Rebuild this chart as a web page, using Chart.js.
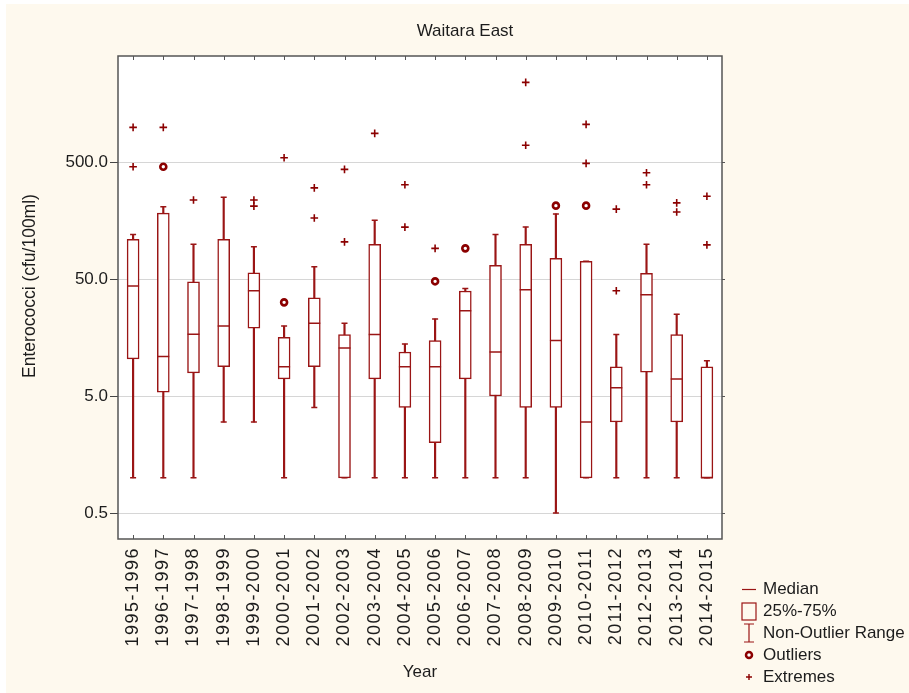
<!DOCTYPE html>
<html>
<head>
<meta charset="utf-8">
<script src="https://cdn.jsdelivr.net/npm/chart.js@4.4.9/dist/chart.umd.min.js"></script>
<style>
  html, body { margin: 0; padding: 0; background: #fff; }
</style>
</head>
<body>
<canvas id="chartBox" width="909" height="693"></canvas>
<script>
// valores (cfu/100ml)
const years = ['1995-1996', '1996-1997', '1997-1998', '1998-1999', '1999-2000', '2000-2001', '2001-2002',
    '2002-2003', '2003-2004', '2004-2005', '2005-2006', '2006-2007', '2007-2008', '2008-2009',
    '2009-2010', '2010-2011', '2011-2012', '2012-2013', '2013-2014', '2014-2015'];
const whiskerLow = [1, 1, 1, 3, 3, 1, 4, 1, 1, 1, 1, 1, 1, 1, 0.5, 1, 1, 1, 1, 1];
const quartile1 = [10.4, 5.4, 7.9, 8.9, 19, 7, 8.9, 1, 7, 4, 2, 7, 5, 4, 4, 1, 3, 8, 3, 1];
const medians = [43.6, 10.9, 16.9, 19.8, 39.7, 8.9, 20.9, 12.9, 16.8, 8.9, 8.9, 26.8, 11.9, 40.5, 14.9, 3, 5.9, 36.7, 7, 1];
const quartile3 = [109, 183, 47.4, 109, 56.6, 15.9, 34.6, 16.8, 99, 11.9, 14.9, 39.5, 65.5, 99, 75, 70.8, 8.9, 56, 16.8, 8.9];
const whiskerHigh = [120, 207, 99, 250, 94.4, 19.8, 63.7, 20.9, 159, 13.9, 22.8, 41.6, 120, 139, 180, 70.8, 16.8, 99, 25, 10];
const outliers = [[], [456], [], [], [], [31.6], [], [], [], [], [47.8], [91.5], [], [], [212], [212], [], [], [], []];
const extremes = [[990, 456], [990], [237], [], [237, 210], [544], [301, 166], [433, 104], [879], [320, 139],
    [91.5], [], [], [2400, 695], [], [1050, 487], [198, 39.7], [405, 320], [224, 187], [255, 98]];
const yTicks = [0.5, 5, 50, 500];
const legendLabels = ['Median', '25%-75%', 'Non-Outlier Range', 'Outliers', 'Extremes'];

const fontFamily = '"Liberation Sans", Arial, sans-serif';
const lineColor = '#9a1515';
const dotColor = '#8b0000';
const textColor = '#1c1c1c';
const cream = '#fef9ee';

Chart.defaults.font.family = fontFamily;

const pontos = (valores) => years.flatMap((ano, i) => valores[i].map(v => ({ x: ano, y: v })));

const moldura = {
    id: 'moldura',
    afterUpdate: (chart) => {
        // rotulos do eixo x com espacamento entre letras
        const xs = chart.scales.x;
        if (!xs._espacado) {
            const original = xs.drawLabels.bind(xs);
            xs.drawLabels = (area) => {
                const c = xs.ctx;
                c.save();
                c.letterSpacing = '1.5px';
                original(area);
                c.restore();
            };
            xs._espacado = true;
        }
    },
    beforeDraw: (chart) => {
        const { ctx, chartArea: a } = chart;
        ctx.save();
        ctx.fillStyle = '#ffffff';
        ctx.fillRect(0, 0, chart.width, chart.height);
        ctx.fillStyle = cream;
        ctx.fillRect(6, 4, chart.width - 6, chart.height - 4);
        ctx.fillStyle = '#ffffff';
        ctx.fillRect(a.left, a.top, a.right - a.left, a.bottom - a.top);
        ctx.restore();
    },
    afterDraw: (chart) => {
        const { ctx, chartArea: a, scales } = chart;
        ctx.save();

        // borda da area do grafico
        ctx.strokeStyle = '#555';
        ctx.lineWidth = 1.5;
        ctx.strokeRect(a.left, a.top, a.right - a.left, a.bottom - a.top);

        // marcas internas no eixo x (topo e base)
        ctx.lineWidth = 1;
        ctx.beginPath();
        years.forEach((_, i) => {
            const x = Math.round(scales.x.getPixelForTick(i)) + 0.5;
            ctx.moveTo(x, a.top);
            ctx.lineTo(x, a.top + 4);
            ctx.moveTo(x, a.bottom);
            ctx.lineTo(x, a.bottom - 4);
        });
        // marcas do lado direito
        yTicks.forEach(v => {
            const y = Math.round(scales.y.getPixelForValue(v)) + 0.5;
            ctx.moveTo(a.right, y);
            ctx.lineTo(a.right + 3, y);
        });
        ctx.stroke();

        // titulos
        ctx.fillStyle = textColor;
        ctx.textAlign = 'center';
        ctx.textBaseline = 'middle';
        ctx.font = `17px ${fontFamily}`;
        ctx.fillText('Waitara East', 465, 31);

        ctx.save();
        ctx.translate(30, 286);
        ctx.rotate(-Math.PI / 2);
        ctx.font = `17.5px ${fontFamily}`;
        ctx.fillText('Enterococci (cfu/100ml)', 0, 0);
        ctx.restore();

        // legenda
        const lx = 749;
        const linhas = [589, 611, 633, 655, 677];
        ctx.strokeStyle = lineColor;
        ctx.lineWidth = 1.2;
        ctx.beginPath();
        ctx.moveTo(lx - 7, linhas[0] + 0.5);
        ctx.lineTo(lx + 7, linhas[0] + 0.5);
        ctx.stroke();
        ctx.strokeRect(lx - 7, linhas[1] - 8, 14, 17);
        ctx.beginPath();
        ctx.moveTo(lx, linhas[2] - 9);
        ctx.lineTo(lx, linhas[2] + 9);
        ctx.moveTo(lx - 5, linhas[2] - 9);
        ctx.lineTo(lx + 5, linhas[2] - 9);
        ctx.moveTo(lx - 5, linhas[2] + 9);
        ctx.lineTo(lx + 5, linhas[2] + 9);
        ctx.stroke();
        ctx.strokeStyle = dotColor;
        ctx.fillStyle = '#fff';
        ctx.lineWidth = 2.5;
        ctx.beginPath();
        ctx.arc(lx, linhas[3], 3, 0, Math.PI * 2);
        ctx.fill();
        ctx.stroke();
        ctx.lineWidth = 1.4;
        ctx.beginPath();
        ctx.moveTo(lx - 3, linhas[4]);
        ctx.lineTo(lx + 3, linhas[4]);
        ctx.moveTo(lx, linhas[4] - 3);
        ctx.lineTo(lx, linhas[4] + 3);
        ctx.stroke();

        ctx.fillStyle = textColor;
        ctx.textAlign = 'left';
        ctx.font = `17px ${fontFamily}`;
        legendLabels.forEach((t, i) => ctx.fillText(t, 763, linhas[i]));
        ctx.restore();
    }
};

const ctx = document.getElementById('chartBox');
new Chart(ctx, {
    type: 'bar',
    data: {
        labels: years,
        datasets: [
            {
                type: 'bar',
                label: '25%-75%',
                data: years.map((_, i) => [quartile1[i], quartile3[i]]),
                backgroundColor: '#ffffff',
                borderColor: lineColor,
                borderWidth: 1.5,
                borderSkipped: false,
                barThickness: 12,
                grouped: false,
                order: 1
            },
            {
                type: 'bar',
                label: 'Non-Outlier Range',
                data: years.map((_, i) => [whiskerLow[i], whiskerHigh[i]]),
                backgroundColor: lineColor,
                borderWidth: 0,
                barThickness: 1.5,
                grouped: false,
                order: 2
            },
            {
                type: 'scatter',
                label: 'caps',
                data: [...years.map((ano, i) => ({ x: ano, y: whiskerLow[i] })), ...years.map((ano, i) => ({ x: ano, y: whiskerHigh[i] }))],
                pointStyle: 'line',
                pointRadius: 3,
                borderColor: lineColor,
                borderWidth: 1.5,
                order: 0
            },
            {
                type: 'scatter',
                label: 'Median',
                data: years.map((ano, i) => ({ x: ano, y: medians[i] })),
                pointStyle: 'line',
                pointRadius: 6,
                borderColor: lineColor,
                borderWidth: 1.5,
                order: 0
            },
            {
                type: 'scatter',
                label: 'Outliers',
                data: pontos(outliers),
                pointStyle: 'circle',
                pointRadius: 3,
                borderColor: dotColor,
                backgroundColor: '#ffffff',
                borderWidth: 2.6,
                order: 0
            },
            {
                type: 'scatter',
                label: 'Extremes',
                data: pontos(extremes),
                pointStyle: 'cross',
                pointRadius: 3.8,
                borderColor: dotColor,
                borderWidth: 1.6,
                order: 0
            }
        ]
    },
    options: {
        responsive: false,
        animation: false,
        layout: { padding: { left: 0, right: 187, top: 56, bottom: 0 } },
        plugins: {
            legend: { display: false },
            tooltip: { enabled: false }
        },
        scales: {
            x: {
                type: 'category',
                offset: true,
                afterFit: (axis) => { axis.height = 154; },
                grid: { display: false, drawTicks: false },
                border: { display: false },
                ticks: { maxRotation: 90, minRotation: 90, autoSkip: false, padding: 8, color: textColor, font: { size: 18 } },
                title: { display: true, text: 'Year', color: textColor, font: { size: 17 }, padding: { top: 0, bottom: 10 } }
            },
            y: {
                type: 'logarithmic',
                min: 0.306,
                max: 4030,
                afterFit: (axis) => { axis.width = 118; },
                afterBuildTicks: (axis) => { axis.ticks = yTicks.map(v => ({ value: v })); },
                grid: { color: '#d6d6d6', tickColor: '#444', tickLength: 8, lineWidth: 1 },
                border: { display: false },
                ticks: { callback: (v) => Number(v).toFixed(1), padding: 2, color: textColor, font: { size: 17 } }
            }
        }
    },
    plugins: [moldura]
});
</script>
</body>
</html>
